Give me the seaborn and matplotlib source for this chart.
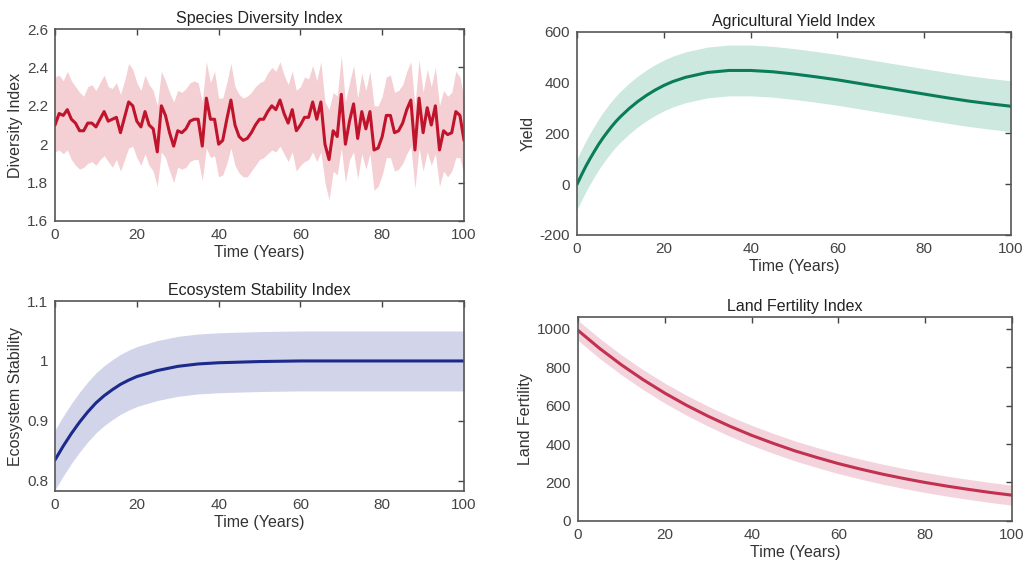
import matplotlib
matplotlib.use("Agg")
import matplotlib.pyplot as plt
import numpy as np
import pandas as pd
import seaborn as sns

# species diversity, one reading per year
div_years = list(range(0, 101))
div_mean = [2.10, 2.16, 2.15, 2.18, 2.13, 2.11, 2.07, 2.07, 2.11, 2.11,
            2.09, 2.13, 2.17, 2.12, 2.13, 2.14, 2.06, 2.14, 2.22, 2.20,
            2.12, 2.09, 2.17, 2.10, 2.08, 1.96, 2.20, 2.15, 2.06, 1.99,
            2.07, 2.06, 2.08, 2.12, 2.13, 2.13, 1.99, 2.24, 2.13, 2.13,
            2.00, 2.02, 2.13, 2.23, 2.10, 2.04, 2.02, 2.03, 2.06, 2.10,
            2.13, 2.13, 2.17, 2.20, 2.18, 2.23, 2.16, 2.11, 2.18, 2.07,
            2.10, 2.14, 2.14, 2.22, 2.13, 2.22, 2.00, 1.92, 2.07, 2.04,
            2.26, 2.00, 2.12, 2.21, 2.03, 2.17, 2.08, 2.17, 1.97, 1.98,
            2.04, 2.15, 2.15, 2.06, 2.07, 2.11, 2.18, 2.23, 1.97, 2.24,
            2.06, 2.19, 2.10, 2.20, 1.97, 2.07, 2.05, 2.06, 2.17, 2.15,
            2.02]
div_upper = [2.35, 2.36, 2.33, 2.38, 2.33, 2.30, 2.27, 2.25, 2.30, 2.31,
             2.28, 2.32, 2.36, 2.30, 2.29, 2.32, 2.26, 2.33, 2.42, 2.39,
             2.32, 2.28, 2.36, 2.31, 2.28, 2.20, 2.38, 2.33, 2.27, 2.22,
             2.28, 2.27, 2.29, 2.32, 2.33, 2.32, 2.22, 2.43, 2.32, 2.38,
             2.24, 2.24, 2.32, 2.42, 2.30, 2.26, 2.24, 2.25, 2.27, 2.30,
             2.32, 2.33, 2.37, 2.40, 2.38, 2.43, 2.36, 2.31, 2.38, 2.28,
             2.30, 2.35, 2.34, 2.41, 2.33, 2.43, 2.22, 2.18, 2.27, 2.25,
             2.46, 2.22, 2.32, 2.41, 2.24, 2.37, 2.28, 2.38, 2.20, 2.20,
             2.25, 2.35, 2.36, 2.27, 2.28, 2.31, 2.38, 2.43, 2.20, 2.44,
             2.27, 2.39, 2.30, 2.40, 2.20, 2.28, 2.25, 2.27, 2.38, 2.35,
             2.24]
div_lower = [1.96, 1.97, 1.95, 1.97, 1.92, 1.89, 1.87, 1.88, 1.90, 1.91,
             1.89, 1.92, 1.94, 1.91, 1.88, 1.92, 1.86, 1.92, 1.98, 1.99,
             1.93, 1.89, 1.95, 1.89, 1.86, 1.78, 1.96, 1.93, 1.86, 1.80,
             1.88, 1.87, 1.88, 1.91, 1.92, 1.92, 1.81, 1.98, 1.93, 1.94,
             1.83, 1.84, 1.90, 1.98, 1.89, 1.85, 1.83, 1.83, 1.86, 1.89,
             1.92, 1.93, 1.95, 1.97, 1.96, 1.99, 1.95, 1.91, 1.96, 1.86,
             1.89, 1.91, 1.92, 1.96, 1.91, 1.96, 1.80, 1.71, 1.86, 1.84,
             1.98, 1.80, 1.92, 1.96, 1.82, 1.95, 1.87, 1.95, 1.76, 1.78,
             1.84, 1.93, 1.93, 1.86, 1.87, 1.90, 1.95, 1.99, 1.77, 1.98,
             1.86, 1.96, 1.89, 1.95, 1.78, 1.86, 1.83, 1.86, 1.93, 1.93,
             1.84]

# agricultural yield
yield_years = [0, 1, 2, 3, 4, 5, 6, 7, 8, 9, 10, 12, 14, 16, 18, 20, 22, 25,
               30, 35, 40, 45, 50, 55, 60, 65, 70, 75, 80, 85, 90, 95, 100]
yield_mean = [0, 36, 70, 101, 130, 158, 183, 206, 228, 248, 266, 298, 326, 350,
              371, 389, 404, 421, 440, 448, 448, 443, 434, 423, 411, 397, 383,
              369, 355, 341, 328, 317, 307]
yield_spread = 100

# ecosystem stability
eco_years = [0, 2, 4, 6, 8, 10, 12, 14, 16, 18, 20, 25, 30, 35, 40, 50, 60, 80, 100]
eco_mean = [0.835, 0.858, 0.879, 0.898, 0.915, 0.930, 0.942, 0.952, 0.961, 0.968,
            0.974, 0.984, 0.991, 0.995, 0.997, 0.999, 1.000, 1.000, 1.000]
eco_spread = 0.05

# land fertility
land_years = [0, 5, 10, 15, 20, 25, 30, 35, 40, 45, 50, 55, 60, 65, 70, 75, 80,
              85, 90, 95, 100]
land_mean = [990, 896, 811, 734, 664, 601, 544, 492, 445, 403, 364, 330, 298,
             270, 244, 221, 200, 181, 164, 148, 134]
land_spread = 52

sns.set_theme(style="white")
plt.rcParams['font.family'] = ['Liberation Sans', 'DejaVu Sans']

fig = plt.figure(figsize=(10.25, 5.69), dpi=100)
ax_div = fig.add_axes([0.0537, 0.6116, 0.399, 0.3374])
ax_yld = fig.add_axes([0.563, 0.587, 0.4234, 0.357])
ax_eco = fig.add_axes([0.0537, 0.137, 0.399, 0.334])
ax_lnd = fig.add_axes([0.564, 0.0844, 0.4234, 0.3585])

grey = '#444444'


def style(ax, title, ylabel, ylim, yticks, yticklabels):
    ax.set_xlim(0, 100)
    ax.set_ylim(*ylim)
    ax.set_xticks([0, 20, 40, 60, 80, 100])
    ax.set_yticks(yticks)
    ax.set_yticklabels(yticklabels)
    ax.tick_params(direction='in', top=True, right=True, length=4, width=1,
                   colors=grey, labelsize=11, labelcolor=grey, pad=5)
    for s in ax.spines.values():
        s.set_color('#555555')
        s.set_linewidth(1.2)
    ax.set_title(title, fontsize=11.5, color='#222222', pad=4)
    ax.set_xlabel('Time (Years)', fontsize=11.5, color='#333333', labelpad=2)
    ax.set_ylabel(ylabel, fontsize=11.5, color='#333333', labelpad=3)


df = pd.DataFrame({'t': div_years, 'v': div_mean})
ax_div.fill_between(div_years, div_lower, div_upper, color='#f4cfd3', lw=0)
sns.lineplot(data=df, x='t', y='v', ax=ax_div, color='#c0142c', lw=2.2)
style(ax_div, 'Species Diversity Index', 'Diversity Index', (1.6, 2.6),
      [1.6, 1.8, 2.0, 2.2, 2.4, 2.6], ['1.6', '1.8', '2', '2.2', '2.4', '2.6'])

ym = np.array(yield_mean)
ax_yld.fill_between(yield_years, ym - yield_spread, ym + yield_spread, color='#cde8df', lw=0)
sns.lineplot(x=yield_years, y=yield_mean, ax=ax_yld, color='#0b7c59', lw=2.2)
style(ax_yld, 'Agricultural Yield Index', 'Yield', (-200, 600),
      [-200, 0, 200, 400, 600], ['-200', '0', '200', '400', '600'])

em = np.array(eco_mean)
ax_eco.fill_between(eco_years, em - eco_spread, em + eco_spread, color='#d2d5ea', lw=0)
sns.lineplot(x=eco_years, y=eco_mean, ax=ax_eco, color='#1c2a8c', lw=2.2)
style(ax_eco, 'Ecosystem Stability Index', 'Ecosystem Stability', (0.783, 1.1),
      [0.8, 0.9, 1.0, 1.1], ['0.8', '0.9', '1', '1.1'])

lm = np.array(land_mean)
ax_lnd.fill_between(land_years, lm - land_spread, lm + land_spread, color='#f4d4dc', lw=0)
sns.lineplot(x=land_years, y=land_mean, ax=ax_lnd, color='#c23150', lw=2.2)
style(ax_lnd, 'Land Fertility Index', 'Land Fertility', (0, 1060),
      [0, 200, 400, 600, 800, 1000], ['0', '200', '400', '600', '800', '1000'])

fig.savefig('out.png', dpi=100)
